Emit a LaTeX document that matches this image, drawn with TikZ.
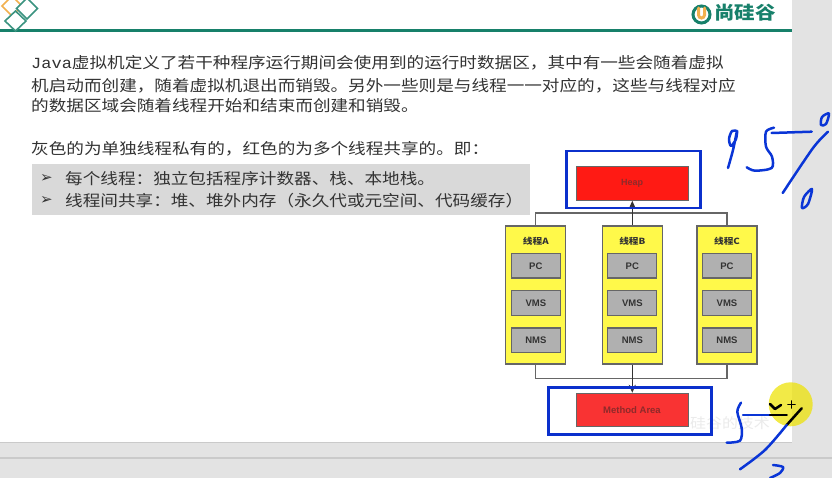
\documentclass[tikz,border=0pt]{standalone}
\usepackage{fontspec}
\usepackage{xcolor}
\usetikzlibrary{arrows.meta, positioning}
\setmainfont[FakeStretch=1.14]{Noto Sans CJK SC}
\setmonofont[FakeStretch=1.1]{Liberation Mono}
\setsansfont{Liberation Sans}
\newfontfamily\symfont{DejaVu Sans}
\definecolor{pagegray}{HTML}{E3E3E3}
\definecolor{linegray}{HTML}{CACACA}
\definecolor{notegray}{HTML}{D9D9D9}
\definecolor{brandgreen}{HTML}{17806A}
\definecolor{brandorange}{HTML}{F2B04E}
\definecolor{ink}{HTML}{333333}
\definecolor{edge}{HTML}{666666}
\definecolor{threadyellow}{HTML}{FFF94A}
\definecolor{memgray}{HTML}{B0B0B0}
\definecolor{heapred}{HTML}{FF1A14}
\definecolor{methodred}{HTML}{F93333}
\definecolor{labelred}{HTML}{8E2A2A}
\definecolor{markblue}{HTML}{0B30CC}
\definecolor{penblue}{HTML}{0A35D6}

\begin{document}
\begin{tikzpicture}[x=1pt, y=-1pt,
  textline/.style={anchor=west, inner sep=0pt, text=ink, font=\fontsize{15.45}{15}\selectfont},
  threadbox/.style={draw=edge, line width=1.3pt, fill=threadyellow, minimum width=60pt, minimum height=138pt, inner sep=0pt},
  threadtitle/.style={inner sep=0pt, text=ink, font=\fontsize{8.5}{9}\selectfont\bfseries},
  membox/.style={draw=edge, line width=1.3pt, fill=memgray, minimum width=49pt, minimum height=24.5pt, inner sep=0pt, text=ink, font=\fontsize{9.5}{10}\selectfont\sffamily\bfseries},
  sharedbox/.style={draw=edge, line width=1pt, minimum width=112pt, minimum height=33.5pt, inner sep=0pt, text=labelred},
  markbox/.style={draw=markblue, line width=2.6pt},
  conn/.style={draw=edge, line width=1.3pt},
  arr/.style={-{Stealth[length=8pt, width=7pt]}, line width=1.2pt, color=ink},
  pen/.style={draw=penblue, line width=2.5pt, line cap=round, line join=round},
  blackpen/.style={draw=black, line width=2.5pt, line cap=round, line join=round},
  diamondmark/.style={line width=1.6pt, fill=white},
]
\useasboundingbox (0,0) rectangle (832,478);
\clip (0,0) rectangle (832,478);
\fill[pagegray] (0,0) rectangle (832,478);
\fill[white] (0,0) rectangle (792,442);
\fill[linegray] (0,442) rectangle (792,443.3);
\fill[linegray] (0,457) rectangle (832,459);
\fill[brandgreen] (0,29.5) rectangle (792,32.5);

% page header
\draw[diamondmark, draw=brandorange] (12,-4) -- (22,6) -- (12,16) -- (2,6) -- cycle;
\draw[diamondmark, draw=brandgreen!85!white] (27,-2) -- (37.5,8.5) -- (27,19) -- (16.5,8.5) -- cycle;
\draw[diamondmark, draw=brandgreen!85!white] (15.5,11) -- (26,21) -- (15.5,31) -- (5,21) -- cycle;
\draw[brandgreen, line width=3pt] (701.5,14.5) circle (8.5pt);
\draw[brandorange, line width=3pt, line cap=round] (698.5,8) -- (698.5,15) arc[start angle=180, end angle=360, x radius=3, y radius=-3] -- (704.5,8);
\node[inner sep=0pt, text=brandgreen, font=\fontsize{18}{18}\selectfont\bfseries] (logo) at (745,13) {尚硅谷};

% text
\node[textline] (introa) at (31,63) {{\ttfamily Java}虚拟机定义了若干种程序运行期间会使用到的运行时数据区，其中有一些会随着虚拟};
\node[textline] (introb) at (31,86) {机启动而创建，随着虚拟机退出而销毁。另外一些则是与线程一一对应的，这些与线程对应};
\node[textline] (introc) at (31,106) {的数据区域会随着线程开始和结束而创建和销毁。};
\node[textline] (intro) at (31,149) {灰色的为单独线程私有的，红色的为多个线程共享的。即：};
\fill[notegray] (32,164) rectangle (530,215);
\node[textline, font=\fontsize{15}{15}\selectfont\symfont] (bulleta) at (40,178.5) {➢};
\node[textline, font=\fontsize{15}{15}\selectfont\symfont] (bulletb) at (40,201) {➢};
\node[textline] (notea) at (65,178.5) {每个线程：独立包括程序计数器、栈、本地栈。};
\node[textline] (noteb) at (65,201) {线程间共享：堆、堆外内存（永久代或元空间、代码缓存）};

% diagram
\node[inner sep=0pt, text=black!8, font=\fontsize{14}{14}\selectfont] (watermark) at (730,423) {硅谷的技术};
\node[sharedbox, fill=heapred, font=\fontsize{9}{9}\selectfont\sffamily\bfseries] (heap) at (632,183.5) {Heap};
\node[sharedbox, fill=methodred, font=\fontsize{9.5}{10}\selectfont\sffamily\bfseries] (method) at (632,410) {Method Area};
\node[threadbox] (threada) at (535.8,295) {};
\node[threadbox] (threadb) at (632.3,295) {};
\node[threadbox] (threadc) at (727,295) {};
\node[threadtitle, below=12pt of threada.north] (titlea) {线程A};
\node[threadtitle, below=12pt of threadb.north] (titleb) {线程B};
\node[threadtitle, below=12pt of threadc.north] (titlec) {线程C};
\node[membox, below=7pt of titlea] (pca) {PC};
\node[membox, below=11.5pt of pca] (vmsa) {VMS};
\node[membox, below=11.5pt of vmsa] (nmsa) {NMS};
\node[membox, below=7pt of titleb] (pcb) {PC};
\node[membox, below=11.5pt of pcb] (vmsb) {VMS};
\node[membox, below=11.5pt of vmsb] (nmsb) {NMS};
\node[membox, below=7pt of titlec] (pcc) {PC};
\node[membox, below=11.5pt of pcc] (vmsc) {VMS};
\node[membox, below=11.5pt of vmsc] (nmsc) {NMS};
\coordinate (topbus) at (632.3,213);
\coordinate (lowbus) at (632.3,378.5);
\draw[conn] (threada.north) |- (topbus) -| (threadc.north);
\draw[conn] (threada.south) |- (lowbus) -| (threadc.south);
\draw[arr] (threadb.north) -- (threadb.north |- heap.south);
\draw[arr] (threadb.south) -- (threadb.south |- method.north);
\node[markbox, minimum width=134pt, minimum height=57pt] (heapmark) at (633.3,179.5) {};
\node[markbox, minimum width=163pt, minimum height=47pt] (methodmark) at (629.7,411) {};

% pen notes
\draw[pen] plot[smooth] coordinates {(737,131) (732,131) (729,139) (731,146) (736,139) (737,131) (733,150) (728,168)};
\draw[pen] (811.7,131.7) -- (771.7,133);
\draw[pen] plot[smooth] coordinates {(774,127.7) (766,131.7) (766,146.7) (772,156.7) (771.7,168) (755,170.7) (746.7,167.3)};
\draw[pen] plot[smooth] coordinates {(828,131.7) (813,148) (782.7,193)};
\draw[pen] plot[smooth cycle] coordinates {(829,113.5) (826,124) (821,125) (822,117)};
\draw[pen] plot[smooth cycle] coordinates {(812,189) (808,204) (802,208) (804,197)};
\fill[yellow!85!olive, opacity=.72] (790.7,404.3) circle (22pt);
\draw[pen] plot[smooth] coordinates {(741,402.7) (737.3,411.7) (741.7,428.3) (740,440.7) (726.7,442.7)};
\draw[pen] (743,415) -- (770,415);
\draw[blackpen] (770,415) -- (786.7,415);
\draw[blackpen] (770,404) -- (775,409) -- (781,405);
\draw[blackpen, line width=1.6pt] (788,404.3) -- (795,404.3) (791.5,401) -- (791.5,408);
\draw[blackpen] (801.7,408.3) -- (786.7,425);
\draw[pen] plot[smooth] coordinates {(786.7,425) (765,450) (740,469.3)};
\draw[pen] plot[smooth] coordinates {(773,465) (783,467) (780,473) (770,478)};
\end{tikzpicture}
\end{document}
